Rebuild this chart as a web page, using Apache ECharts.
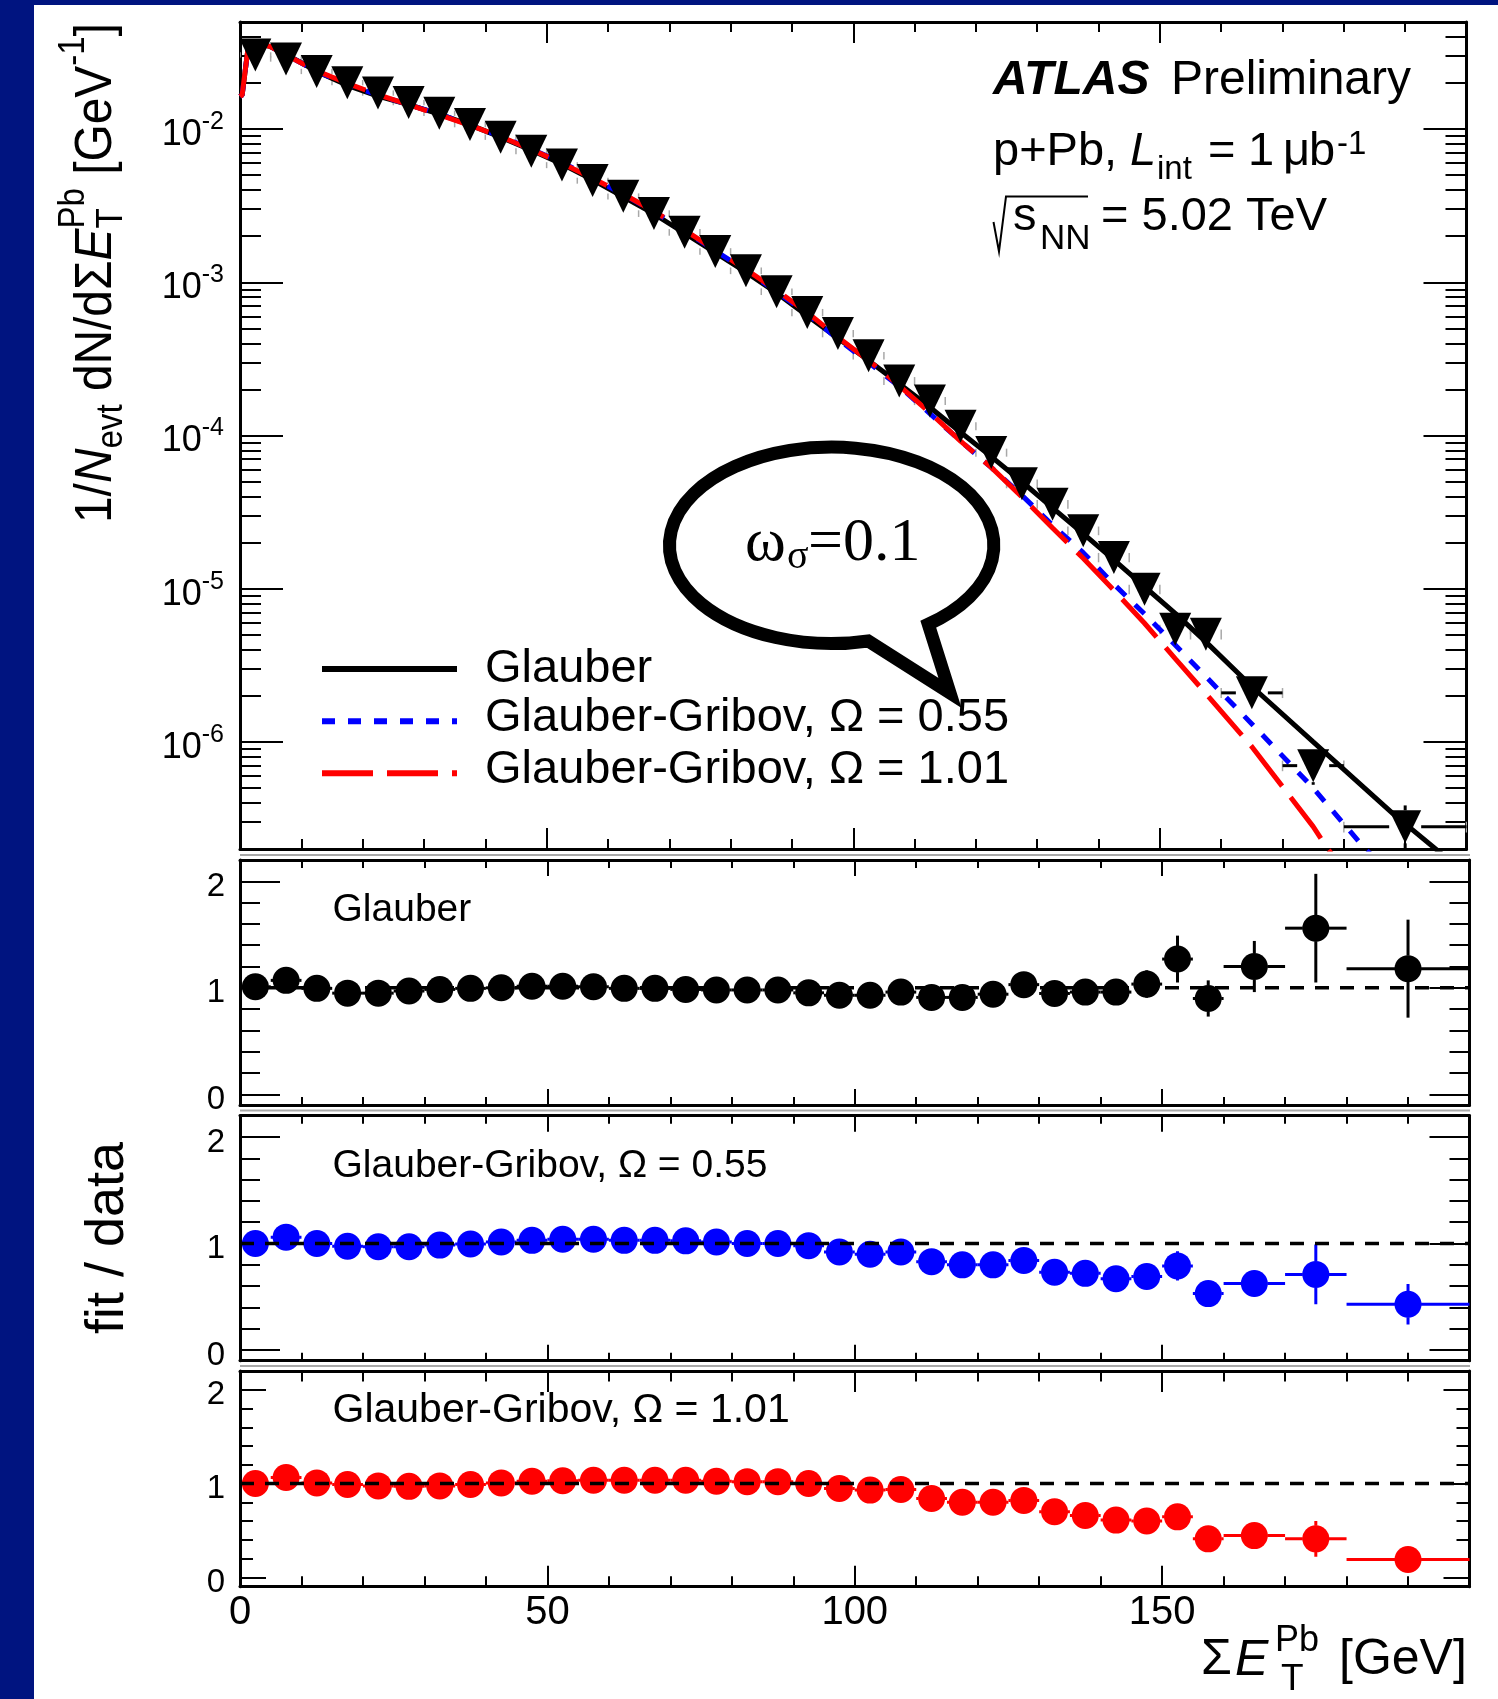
<!DOCTYPE html>
<html>
<head>
<meta charset="utf-8">
<title>ΣE_T^Pb distribution, p+Pb at 5.02 TeV</title>
<script src="https://cdn.jsdelivr.net/npm/echarts@6.0.0/dist/echarts.min.js"></script>
<style>
  html, body { margin: 0; padding: 0; background: #ffffff; }
  #chart { width: 1498px; height: 1699px; }
</style>
</head>
<body>
<div id="chart"></div>
<script>
const SANS = '"Liberation Sans", Arial, Helvetica, sans-serif';
const SERIF = '"Liberation Serif", "Times New Roman", serif';

// ---- binning in ΣE_T^Pb [GeV] ----
const binCenter = [2.5, 7.5, 12.5, 17.5, 22.5, 27.5, 32.5, 37.5, 42.5, 47.5,
  52.5, 57.5, 62.5, 67.5, 72.5, 77.5, 82.5, 87.5, 92.5, 97.5,
  102.5, 107.5, 112.5, 117.5, 122.5, 127.5, 132.5, 137.5, 142.5, 147.5,
  152.5, 157.5, 165, 175, 190];
const binHalfWidth = [2.5, 2.5, 2.5, 2.5, 2.5, 2.5, 2.5, 2.5, 2.5, 2.5,
  2.5, 2.5, 2.5, 2.5, 2.5, 2.5, 2.5, 2.5, 2.5, 2.5,
  2.5, 2.5, 2.5, 2.5, 2.5, 2.5, 2.5, 2.5, 2.5, 2.5,
  2.5, 2.5, 5, 5, 10];

// ---- measured 1/N_evt dN/dΣE_T^Pb [GeV^-1] ----
const yieldData = [0.0305, 0.0287, 0.0238, 0.0201, 0.0172, 0.0149, 0.0127, 0.0107, 0.00886, 0.00718,
  0.00582, 0.00461, 0.00364, 0.00281, 0.00212, 0.00159, 0.00119, 0.000869, 0.000635, 0.000463,
  0.000332, 0.000227, 0.000168, 0.000115, 7.74e-5, 4.84e-5, 3.56e-5, 2.39e-5, 1.60e-5, 9.91e-6,
  5.43e-6, 5.04e-6, 2.09e-6, 7.0e-7, 2.79e-7];
// relative statistical and systematic uncertainties
const yieldStatRel = [0.003, 0.003, 0.003, 0.003, 0.003, 0.003, 0.003, 0.004, 0.004, 0.004,
  0.005, 0.005, 0.006, 0.006, 0.007, 0.008, 0.009, 0.011, 0.013, 0.015,
  0.018, 0.021, 0.025, 0.03, 0.036, 0.045, 0.053, 0.065, 0.08, 0.1,
  0.17, 0.19, 0.2, 0.25, 0.38];
const yieldSysRel = [0.04, 0.04, 0.04, 0.04, 0.04, 0.04, 0.04, 0.04, 0.04, 0.045,
  0.045, 0.045, 0.045, 0.05, 0.05, 0.05, 0.05, 0.05, 0.055, 0.055,
  0.055, 0.06, 0.06, 0.06, 0.06, 0.065, 0.065, 0.065, 0.07, 0.07,
  0.07, 0.075, 0.075, 0.08, 0.08];

// ---- fitted distributions, [ΣE_T^Pb, value] ----
const fitGlauber = [[0, 0.0163], [0.35, 0.0167], [1.4, 0.0360], [2.5, 0.0362], [4, 0.0353], [5, 0.0345],
  [7.5, 0.0307], [10, 0.0271], [12.5, 0.0238], [17.5, 0.0193], [22.5, 0.0164], [27.5, 0.01445],
  [32.5, 0.01251], [37.5, 0.01065], [42.5, 0.00886], [47.5, 0.00729], [52.5, 0.00591], [57.5, 0.00466],
  [62.5, 0.00362], [67.5, 0.0028], [72.5, 0.00209], [77.5, 0.00156], [82.5, 0.001166], [87.5, 0.000852],
  [92.5, 0.000605], [97.5, 0.000431], [102.5, 0.000309], [107.5, 0.000218], [112.5, 0.000153], [117.5, 0.000105],
  [122.5, 7.28e-5], [127.5, 4.99e-5], [132.5, 3.37e-5], [137.5, 2.29e-5], [142.5, 1.54e-5], [147.5, 1.03e-5],
  [152.5, 6.9e-6], [157.5, 4.5e-6], [165, 2.3e-6], [175, 1.0e-6], [188, 3.4e-7], [196, 1.85e-7]];
const fitGG055 = [[0, 0.0163], [0.35, 0.0167], [1.4, 0.0360], [2.5, 0.0362], [4, 0.0353], [5, 0.0345],
  [7.5, 0.0305], [10, 0.0270], [12.5, 0.0238], [17.5, 0.0196], [22.5, 0.01668], [27.5, 0.01445],
  [32.5, 0.01251], [37.5, 0.01065], [42.5, 0.00899], [47.5, 0.0074], [52.5, 0.00605], [57.5, 0.00479],
  [62.5, 0.00375], [67.5, 0.00289], [72.5, 0.00217], [77.5, 0.00161], [82.5, 0.00119], [87.5, 0.000869],
  [92.5, 0.000622], [97.5, 0.000426], [102.5, 0.000299], [107.5, 0.000209], [112.5, 0.000139], [117.5, 9.2e-5],
  [122.5, 6.19e-5], [127.5, 4.07e-5], [132.5, 2.6e-5], [137.5, 1.72e-5], [142.5, 1.07e-5], [147.5, 6.84e-6],
  [152.5, 4.29e-6], [157.5, 2.67e-6], [165, 1.31e-6], [175, 5.0e-7], [183.5, 2.0e-7], [186, 1.6e-7]];
const fitGG101 = [[0, 0.0163], [0.35, 0.0167], [1.4, 0.0360], [2.5, 0.0362], [4, 0.0353], [5, 0.0345],
  [7.5, 0.0305], [10, 0.0270], [12.5, 0.0240], [17.5, 0.0199], [22.5, 0.01677], [27.5, 0.01445],
  [32.5, 0.01238], [37.5, 0.01059], [42.5, 0.00892], [47.5, 0.00736], [52.5, 0.00599], [57.5, 0.00477],
  [62.5, 0.00377], [67.5, 0.00291], [72.5, 0.00219], [77.5, 0.00163], [82.5, 0.001214], [87.5, 0.000886],
  [92.5, 0.000635], [97.5, 0.000438], [102.5, 0.000309], [107.5, 0.000212], [112.5, 0.000141], [117.5, 9.2e-5],
  [122.5, 6.19e-5], [127.5, 3.97e-5], [132.5, 2.49e-5], [137.5, 1.58e-5], [142.5, 9.76e-6], [147.5, 5.95e-6],
  [152.5, 3.5e-6], [157.5, 2.07e-6], [165, 9.3e-7], [175, 2.8e-7], [177.4, 2.0e-7], [179, 1.65e-7]];

// ---- fit / data ratios ----
const ratioGlauber = [1.01, 1.07, 0.995, 0.95, 0.95, 0.97, 0.985, 0.995, 1.0, 1.015,
  1.015, 1.01, 0.995, 0.995, 0.985, 0.98, 0.98, 0.98, 0.953, 0.93,
  0.93, 0.96, 0.91, 0.91, 0.94, 1.03, 0.947, 0.96, 0.96, 1.035,
  1.27, 0.90, 1.20, 1.56, 1.18];
const ratioGlauberErr = [0.01, 0.01, 0.01, 0.01, 0.01, 0.01, 0.01, 0.01, 0.01, 0.01,
  0.01, 0.01, 0.01, 0.01, 0.01, 0.01, 0.012, 0.014, 0.016, 0.018,
  0.02, 0.024, 0.028, 0.032, 0.04, 0.05, 0.06, 0.07, 0.085, 0.13,
  0.22, 0.17, 0.24, 0.51, 0.46];
const ratioGG055 = [1.0, 1.06, 1.0, 0.975, 0.97, 0.97, 0.985, 0.995, 1.015, 1.03,
  1.04, 1.04, 1.03, 1.03, 1.025, 1.015, 1.0, 1.0, 0.98, 0.92,
  0.90, 0.92, 0.83, 0.80, 0.80, 0.84, 0.73, 0.72, 0.67, 0.69,
  0.79, 0.53, 0.625, 0.71, 0.43];
const ratioGG055Err = [0.01, 0.01, 0.01, 0.01, 0.01, 0.01, 0.01, 0.01, 0.01, 0.01,
  0.01, 0.01, 0.01, 0.01, 0.01, 0.01, 0.012, 0.014, 0.016, 0.018,
  0.019, 0.023, 0.026, 0.028, 0.034, 0.041, 0.046, 0.052, 0.059, 0.087,
  0.137, 0.10, 0.125, 0.28, 0.19];
const ratioGG101 = [1.0, 1.064, 1.007, 0.99, 0.975, 0.97, 0.975, 0.99, 1.007, 1.025,
  1.03, 1.035, 1.035, 1.035, 1.035, 1.025, 1.02, 1.02, 1.0, 0.947,
  0.93, 0.936, 0.84, 0.80, 0.80, 0.82, 0.70, 0.66, 0.61, 0.60,
  0.645, 0.41, 0.445, 0.41, 0.19];
const ratioGG101Err = [0.01, 0.01, 0.01, 0.01, 0.01, 0.01, 0.01, 0.01, 0.01, 0.01,
  0.01, 0.01, 0.01, 0.01, 0.01, 0.01, 0.012, 0.015, 0.017, 0.018,
  0.02, 0.023, 0.026, 0.028, 0.034, 0.04, 0.044, 0.048, 0.054, 0.075,
  0.11, 0.077, 0.089, 0.19, 0.074];
const ratioUnity = 1;

// ---- axes ----
const xRange = [0, 200];
const xMajorStep = 50;
const xTickLabels = [0, 50, 100, 150];
const yieldRange = [2e-7, 0.05];
const yieldDecades = [-6, -5, -4, -3, -2];
const ratioRange = [-0.1, 2.2];
const ratioMajor = [0, 1, 2];
const ratioMinor = [0.2, 0.4, 0.6, 0.8, 1.2, 1.4, 1.6, 1.8];

const LOG_MIN = Math.log10(yieldRange[0]);
const LOG_MAX = Math.log10(yieldRange[1]);
// log-axis minor ticks at 2..9 × 10^n
const yieldMinorLog = [];
for (let e = -7; e <= -2; e++) {
  for (let k = 2; k <= 9; k++) {
    const v = Math.log10(k * Math.pow(10, e));
    if (v > LOG_MIN + 1e-6 && v < LOG_MAX - 1e-6) yieldMinorLog.push(v);
  }
}

// ---- pad layout ----
const GRIDS = [
  { left: 240, top: 22, width: 1226.5, height: 827 },
  { left: 240, top: 860, width: 1229.5, height: 245 },
  { left: 240, top: 1115.7, width: 1229.5, height: 245 },
  { left: 240, top: 1371, width: 1229.5, height: 215.7 }
];
const X_TICK = [[21, 10], [16, 8], [16, 8], [21, 10.5]];
const Y_TICK = [[43, 21], [40, 20], [40, 20], [26, 13]];

const frameLine = { show: true, onZero: false, lineStyle: { color: '#000', width: 3 } };
const noLine = { show: false, onZero: false };
function ticks(len, values) {
  const t = { show: true, inside: true, length: len, lineStyle: { color: '#000', width: 2 } };
  if (values) t.customValues = values;
  return t;
}

const xAxes = [];
GRIDS.forEach((g, gi) => {
  ['bottom', 'top'].forEach(pos => {
    const labelled = gi === 3 && pos === 'bottom';
    xAxes.push({
      type: 'value', gridIndex: gi, position: pos,
      min: xRange[0], max: xRange[1], interval: xMajorStep,
      axisLine: frameLine,
      axisTick: ticks(X_TICK[gi][0]),
      minorTick: { show: true, splitNumber: 5, length: X_TICK[gi][1], lineStyle: { color: '#000', width: 2 } },
      splitLine: { show: false }, minorSplitLine: { show: false },
      axisLabel: labelled
        ? { show: true, customValues: xTickLabels, fontSize: 40, fontFamily: SANS, color: '#000', margin: 6 }
        : { show: false }
    });
  });
});

const yAxes = [];
// main pad: log axis carrying the data, plus tick/label axes in log10 space
yAxes.push({ type: 'log', gridIndex: 0, position: 'left', min: yieldRange[0], max: yieldRange[1], show: false });
['left', 'right'].forEach(pos => {
  yAxes.push({
    type: 'value', gridIndex: 0, position: pos, min: LOG_MIN, max: LOG_MAX,
    axisLine: frameLine, axisTick: ticks(Y_TICK[0][0], yieldDecades), splitLine: { show: false },
    axisLabel: pos === 'left' ? {
      show: true, customValues: yieldDecades, margin: 16,
      formatter: v => '{b|10}{s|' + Math.round(v) + '}',
      rich: {
        b: { fontSize: 36, fontFamily: SANS, color: '#000', padding: [12, 0, 0, 0] },
        s: { fontSize: 25, fontFamily: SANS, color: '#000', padding: [0, 0, 14, 0] }
      }
    } : { show: false }
  });
  yAxes.push({
    type: 'value', gridIndex: 0, position: pos, min: LOG_MIN, max: LOG_MAX,
    axisLine: noLine, axisTick: ticks(Y_TICK[0][1], yieldMinorLog), splitLine: { show: false },
    axisLabel: { show: false }
  });
});
// ratio pads
[1, 2, 3].forEach(gi => {
  ['left', 'right'].forEach(pos => {
    yAxes.push({
      type: 'value', gridIndex: gi, position: pos, min: ratioRange[0], max: ratioRange[1],
      axisLine: frameLine, axisTick: ticks(Y_TICK[gi][0], ratioMajor), splitLine: { show: false },
      axisLabel: pos === 'left'
        ? {
          show: true, customValues: ratioMajor, margin: 15,
          formatter: v => '{n|' + v + '}',
          rich: { n: { fontSize: 33, fontFamily: SANS, color: '#000', padding: [11, 0, 0, 0] } }
        }
        : { show: false }
    });
    yAxes.push({
      type: 'value', gridIndex: gi, position: pos, min: ratioRange[0], max: ratioRange[1],
      axisLine: noLine, axisTick: ticks(Y_TICK[gi][1], ratioMinor), splitLine: { show: false },
      axisLabel: { show: false }
    });
  });
});
const ratioYAxis = gi => 5 + 4 * (gi - 1);

// ---- error bars drawn outside the marker box ----
function errorBars(xAxisIndex, yAxisIndex, items, color, width, halfW, halfH, z) {
  return {
    type: 'custom', xAxisIndex, yAxisIndex, silent: true, clip: true, z,
    data: items,
    encode: { x: 0, y: 1 },
    renderItem(params, api) {
      const x = api.value(0), y = api.value(1);
      const c = api.coord([x, y]);
      const lo = api.coord([x, api.value(2)]);
      const hi = api.coord([x, api.value(3)]);
      const l = api.coord([api.value(4), y]);
      const r = api.coord([api.value(5), y]);
      const segs = [];
      if (lo[1] > c[1] + halfH) segs.push([c[0], c[1] + halfH, c[0], lo[1]]);
      if (hi[1] < c[1] - halfH) segs.push([c[0], hi[1], c[0], c[1] - halfH]);
      if (l[0] < c[0] - halfW) segs.push([l[0], c[1], c[0] - halfW, c[1]]);
      if (r[0] > c[0] + halfW) segs.push([c[0] + halfW, c[1], r[0], c[1]]);
      return {
        type: 'group',
        children: segs.map(s => ({
          type: 'line', shape: { x1: s[0], y1: s[1], x2: s[2], y2: s[3] },
          style: { stroke: color, lineWidth: width }
        }))
      };
    }
  };
}

const series = [];

// systematic boxes of the measured spectrum (thin grey, only the sides show)
series.push({
  type: 'custom', xAxisIndex: 0, yAxisIndex: 0, silent: true, clip: true, z: 1,
  data: binCenter.map((x, i) => [x - binHalfWidth[i], x + binHalfWidth[i],
    yieldData[i] * (1 - yieldSysRel[i]), yieldData[i] * (1 + yieldSysRel[i])]),
  encode: { x: 0, y: 2 },
  renderItem(params, api) {
    const a = api.coord([api.value(0), api.value(2)]);
    const b = api.coord([api.value(1), api.value(3)]);
    const st = { stroke: '#a8a8a8', lineWidth: 1.5 };
    return {
      type: 'group', children: [
        { type: 'line', shape: { x1: a[0], y1: a[1], x2: a[0], y2: b[1] }, style: st },
        { type: 'line', shape: { x1: b[0], y1: a[1], x2: b[0], y2: b[1] }, style: st }
      ]
    };
  }
});

// fit curves
[[fitGlauber, '#000000', 'solid'], [fitGG055, '#0000ff', [13, 13]], [fitGG101, '#ff0000', [51, 14]]]
  .forEach(([d, color, type], k) => {
    series.push({
      type: 'line', xAxisIndex: 0, yAxisIndex: 0, data: d, silent: true,
      showSymbol: false, symbol: 'none', smooth: false, clip: true, z: 2 + k,
      lineStyle: { color, width: 5, type, cap: 'butt', opacity: 1 }
    });
  });

// data points with their error bars
series.push(errorBars(0, 0,
  binCenter.map((x, i) => [x, yieldData[i], yieldData[i] * (1 - yieldStatRel[i]),
    yieldData[i] * (1 + yieldStatRel[i]), x - binHalfWidth[i], x + binHalfWidth[i]]),
  '#000', 3, 16, 16.5, 5));
series.push({
  type: 'scatter', xAxisIndex: 0, yAxisIndex: 0, silent: true, z: 6,
  symbol: 'path://M0,0L2,0L1,2Z', symbolSize: [32, 33],
  itemStyle: { color: '#000000', opacity: 1 },
  data: binCenter.map((x, i) => [x, yieldData[i]])
});

// speech bubble around the ω_σ annotation (outline in page pixels)
series.push({
  type: 'custom', xAxisIndex: 0, yAxisIndex: 0, silent: true, clip: false, z: 7,
  data: [[xRange[0], yieldRange[1]]],
  renderItem() {
    return {
      type: 'path',
      shape: { pathData: 'M 928.3 624.2 A 162.2 98.2 0 1 0 868.3 641 L 950 693 Z' },
      style: { fill: 'none', stroke: '#000', lineWidth: 13, lineJoin: 'miter' }
    };
  }
});

// ratio pads
[[ratioGlauber, ratioGlauberErr, '#000000'],
 [ratioGG055, ratioGG055Err, '#0000ff'],
 [ratioGG101, ratioGG101Err, '#ff0000']].forEach(([r, e, color], p) => {
  const gi = p + 1;
  const xi = 2 * gi, yi = ratioYAxis(gi);
  series.push(errorBars(xi, yi,
    binCenter.map((x, i) => [x, r[i], r[i] - e[i], r[i] + e[i], x - binHalfWidth[i], x + binHalfWidth[i]]),
    color, 3, 13, 13, 4));
  series.push({
    type: 'scatter', xAxisIndex: xi, yAxisIndex: yi, silent: true, z: 5,
    symbol: 'circle', symbolSize: 27, itemStyle: { color, opacity: 1 },
    data: binCenter.map((x, i) => [x, r[i]])
  });
  series.push({
    type: 'line', xAxisIndex: xi, yAxisIndex: yi, silent: true, z: 8,
    showSymbol: false, symbol: 'none',
    lineStyle: { color: '#000', width: 3.5, type: [14, 11], opacity: 1 },
    data: [[xRange[0], ratioUnity], [xRange[1], ratioUnity]]
  });
});

// ---- text helpers ----
const measurer = document.createElement('canvas').getContext('2d');
function fontOf(p) {
  return (p.italic ? 'italic ' : '') + (p.bold ? 'bold ' : '') + p.size + 'px ' + (p.family || SANS);
}
function widthOf(p) { measurer.font = fontOf(p); return measurer.measureText(p.t).width; }
function textAt(str, x, baseline, size, o) {
  o = o || {};
  const fam = o.family || SANS;
  const k = fam === SERIF ? 0.3375 : 0.3465;
  return {
    type: 'text', silent: true, z: 20,
    style: {
      text: str, x: x, y: baseline - k * size,
      fontSize: size, fontFamily: fam,
      fontStyle: o.italic ? 'italic' : 'normal', fontWeight: o.bold ? 'bold' : 'normal',
      fill: '#000', align: o.align || 'left', verticalAlign: 'middle'
    }
  };
}
// lays out a run of pieces along a baseline; a "stack" shares one advance
function layoutRun(pieces) {
  let x = 0;
  const children = [];
  pieces.forEach(p => {
    const group = p.stack || [p];
    let adv = 0;
    group.forEach(q => {
      children.push(textAt(q.t, x, q.dy || 0, q.size, q));
      adv = Math.max(adv, widthOf(q));
    });
    x += adv;
  });
  return { children, width: x };
}

const yTitle = layoutRun([
  { t: '1/', size: 52 }, { t: 'N', size: 52, italic: true }, { t: 'evt', size: 36, dy: 10 },
  { t: ' dN/dΣ', size: 52 }, { t: 'E', size: 52, italic: true },
  { stack: [{ t: 'T', size: 36, dy: 10 }, { t: 'Pb', size: 36, dy: -28 }] },
  { t: ' [GeV', size: 52 }, { t: '-1', size: 36, dy: -28 }, { t: ']', size: 52 }
]);

const graphics = [
  // slide frame
  { type: 'rect', silent: true, z: 0, shape: { x: 0, y: 0, width: 34, height: 1699 }, style: { fill: '#001480' } },
  { type: 'rect', silent: true, z: 0, shape: { x: 0, y: 0, width: 1498, height: 5 }, style: { fill: '#001480' } },
  // pad separators
  { type: 'line', silent: true, z: 0, shape: { x1: 240, y1: 855, x2: 1470, y2: 855 }, style: { stroke: '#a8a8a8', lineWidth: 2 } },
  { type: 'line', silent: true, z: 0, shape: { x1: 240, y1: 1110.5, x2: 1470, y2: 1110.5 }, style: { stroke: '#a8a8a8', lineWidth: 2 } },
  { type: 'line', silent: true, z: 0, shape: { x1: 240, y1: 1366, x2: 1470, y2: 1366 }, style: { stroke: '#a8a8a8', lineWidth: 2 } },

  // axis titles
  { type: 'group', x: 115, y: 523, rotation: Math.PI / 2, scaleX: 500 / yTitle.width, children: yTitle.children },
  { type: 'group', x: 127, y: 1238, rotation: Math.PI / 2, children: [textAt('fit / data', 0, 0, 54, { align: 'center' })] },
  textAt('Σ', 1201, 1678, 50),
  textAt('E', 1235, 1678, 50, { italic: true }),
  textAt('T', 1281, 1693, 37),
  textAt('Pb', 1275, 1653.5, 36),
  textAt('[GeV]', 1339, 1678, 50),

  // experiment label
  textAt('ATLAS', 993, 97, 48, { bold: true, italic: true }),
  textAt('Preliminary', 1171, 97, 48),
  textAt('p+Pb,', 993, 168.3, 47),
  textAt('L', 1130, 168.3, 47, { italic: true }),
  textAt('int', 1157, 181.7, 33),
  textAt('=', 1208, 168.3, 47),
  textAt('1', 1248, 168.3, 47),
  textAt('μ', 1283, 168.3, 47),
  textAt('b', 1309, 168.3, 47),
  textAt('-1', 1337, 156.7, 33),
  { type: 'polyline', silent: true, z: 20, shape: { points: [[993.5, 222], [999, 251.5], [1006, 196.5], [1088, 196.5]] },
    style: { stroke: '#000', lineWidth: 2, fill: null } },
  textAt('s', 1013, 233, 47),
  textAt('NN', 1040, 251.5, 35),
  textAt('= 5.02 TeV', 1101, 233, 47),

  // legend
  { type: 'line', silent: true, z: 20, shape: { x1: 322, y1: 669, x2: 457, y2: 669 }, style: { stroke: '#000', lineWidth: 6 } },
  { type: 'line', silent: true, z: 20, shape: { x1: 322, y1: 721.3, x2: 457, y2: 721.3 }, style: { stroke: '#0000ff', lineWidth: 6, lineDash: [13, 13] } },
  { type: 'line', silent: true, z: 20, shape: { x1: 322, y1: 773.3, x2: 457, y2: 773.3 }, style: { stroke: '#ff0000', lineWidth: 6, lineDash: [51, 14] } },
  textAt('Glauber', 485, 685.7, 47),
  textAt('Glauber-Gribov, Ω = 0.55', 485, 734, 47),
  textAt('Glauber-Gribov, Ω = 1.01', 485, 786.7, 47),

  // ratio pad labels
  textAt('Glauber', 332.5, 924, 39),
  textAt('Glauber-Gribov, Ω = 0.55', 332.5, 1179.3, 39),
  textAt('Glauber-Gribov, Ω = 1.01', 332.5, 1425, 41),

  // annotation inside the bubble
  textAt('ω', 745, 565, 62, { family: SERIF }),
  textAt('σ', 787, 571, 40, { family: SERIF }),
  textAt('=0.1', 808, 565, 62, { family: SERIF })
];

const chart = echarts.init(document.getElementById('chart'), null, { renderer: 'canvas', width: 1498, height: 1699 });
chart.setOption({
  animation: false,
  backgroundColor: '#ffffff',
  textStyle: { fontFamily: SANS },
  grid: GRIDS.map(g => Object.assign({ show: false, containLabel: false }, g)),
  xAxis: xAxes,
  yAxis: yAxes,
  series: series,
  graphic: { elements: graphics }
});
</script>
</body>
</html>
